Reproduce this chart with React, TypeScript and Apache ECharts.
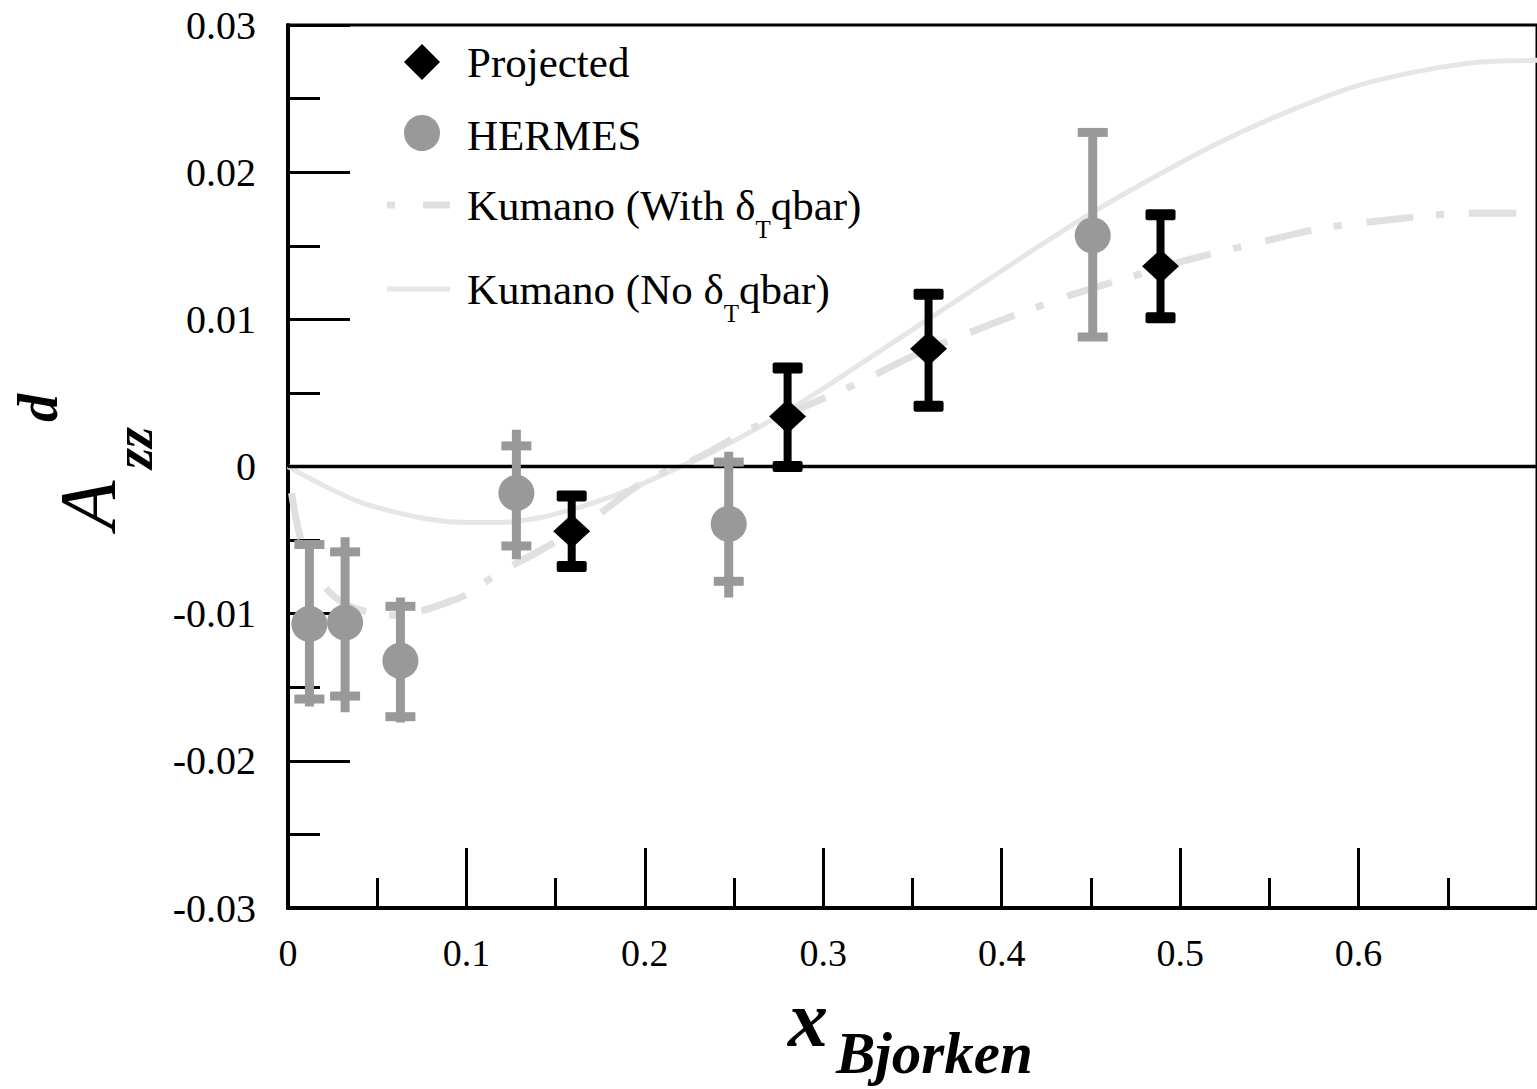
import React, { useEffect, useRef } from "react";
import * as echarts from "echarts";

// ---- data ----
const xTickLabels = ["0", "0.1", "0.2", "0.3", "0.4", "0.5", "0.6", "0.7"];

const projX = [0.159, 0.28, 0.359, 0.489];
const projY = [-0.0044, 0.0034, 0.008, 0.0136];
const projLow = [-0.0068, 0.0, 0.0041, 0.0101];
const projHigh = [-0.002, 0.0067, 0.0117, 0.0171];

const hermesX = [0.012, 0.032, 0.063, 0.128, 0.247, 0.451];
const hermesY = [-0.0107, -0.0106, -0.0132, -0.0018, -0.0039, 0.0157];
const hermesCapLow = [-0.0158, -0.0156, -0.017, -0.0054, -0.0078, 0.0088];
const hermesCapHigh = [-0.0053, -0.0058, -0.0095, 0.0014, 0.0003, 0.0227];
const hermesBarLow = [-0.0163, -0.0167, -0.0174, -0.0063, -0.0089, 0.0088];
const hermesBarHigh = [-0.005, -0.0048, -0.0089, 0.0025, 0.001, 0.0227];

const kumanoNoX = [0, 0.02, 0.04, 0.06, 0.08, 0.1, 0.12, 0.14, 0.16, 0.18, 0.2, 0.22, 0.24, 0.26, 0.28, 0.3, 0.32, 0.34, 0.36, 0.38, 0.4, 0.42, 0.45, 0.48, 0.52, 0.56, 0.6, 0.64, 0.67, 0.7];
const kumanoNoY = [0, -0.0013, -0.0024, -0.0031, -0.0036, -0.0038, -0.0038, -0.0035, -0.0029, -0.0021, -0.0011, 0.0, 0.0011, 0.0024, 0.0038, 0.0053, 0.0069, 0.0085, 0.0101, 0.0117, 0.0133, 0.0149, 0.0172, 0.0193, 0.0219, 0.0241, 0.0259, 0.027, 0.0275, 0.0276];

const kumanoWithX = [0.002, 0.006, 0.012, 0.02, 0.03, 0.045, 0.06, 0.075, 0.09, 0.1, 0.12, 0.14, 0.17, 0.2, 0.23, 0.26, 0.29, 0.32, 0.35, 0.38, 0.41, 0.44, 0.47, 0.5, 0.54, 0.58, 0.62, 0.66, 0.7];
const kumanoWithY = [-0.0018, -0.0044, -0.0066, -0.0081, -0.0092, -0.0099, -0.0101, -0.0098, -0.0092, -0.0087, -0.0071, -0.0058, -0.0036, -0.001, 0.0006, 0.0026, 0.0041, 0.0057, 0.0075, 0.009, 0.0104, 0.0117, 0.0128, 0.0139, 0.0151, 0.0162, 0.0168, 0.0172, 0.0172];

const zeroLineX = [0, 0.7];

const SERIF = "'Liberation Serif', 'Times New Roman', serif";
const HERMES_GRAY = "#999999";

export default function App() {
  const ref = useRef<HTMLDivElement>(null);

  useEffect(() => {
    document.body.style.margin = "0";
    if (!ref.current) return;
    const chart = echarts.init(ref.current, null, { renderer: "svg" });

    const hermesErr = hermesX.map((x, i) => [x, hermesCapLow[i], hermesCapHigh[i], hermesBarLow[i], hermesBarHigh[i]]);
    const projErr = projX.map((x, i) => [x, projLow[i], projHigh[i]]);

    const legendText = (x: number, y: number, text: string) => ({
      type: "text",
      x,
      y,
      style: {
        text,
        fill: "#000",
        fontFamily: SERIF,
        fontSize: 43,
        align: "left",
        verticalAlign: "middle",
        textAlign: "left",
        textVerticalAlign: "middle",
        rich: {
          sub: { fontFamily: SERIF, fontSize: 25, fill: "#000", padding: [48, 0, 0, 0] },
        },
      },
    });

    const option: any = {
      animation: false,
      backgroundColor: "#fff",
      grid: {
        left: 288,
        top: 25,
        right: -11,
        bottom: 181,
        show: true,
        borderColor: "#000",
        borderWidth: 3,
        backgroundColor: "transparent",
      },
      xAxis: {
        type: "value",
        min: 0,
        max: 0.7,
        interval: 0.1,
        axisLine: { show: true, onZero: false, lineStyle: { color: "#000", width: 4 } },
        axisTick: { show: true, inside: true, length: 60, lineStyle: { color: "#000", width: 3 } },
        minorTick: { show: true, splitNumber: 2, length: 30, lineStyle: { color: "#000", width: 3 } },
        splitLine: { show: false },
        minorSplitLine: { show: false },
        axisLabel: {
          color: "#000",
          fontFamily: SERIF,
          fontSize: 38,
          margin: 26,
          showMaxLabel: false,
          formatter: (v: number) => xTickLabels[Math.round(v * 10)] ?? "",
        },
      },
      yAxis: {
        type: "value",
        min: -0.03,
        max: 0.03,
        interval: 0.01,
        axisLine: { show: true, onZero: false, lineStyle: { color: "#000", width: 4 } },
        axisTick: { show: true, inside: true, length: 62, lineStyle: { color: "#000", width: 3 } },
        minorTick: { show: true, splitNumber: 2, length: 32, lineStyle: { color: "#000", width: 3 } },
        splitLine: { show: false },
        minorSplitLine: { show: false },
        axisLabel: {
          color: "#000",
          fontFamily: SERIF,
          fontSize: 40,
          margin: 32,
          formatter: (v: number) => (Math.abs(v) < 1e-9 ? "0" : v.toFixed(2)),
        },
      },
      series: [
        {
          name: "Kumano (No δTqbar)",
          type: "line",
          data: kumanoNoX.map((x, i) => [x, kumanoNoY[i]]),
          smooth: 0.3,
          showSymbol: false,
          symbol: "none",
          lineStyle: { color: "#e6e6e6", width: 5 },
          z: 1,
        },
        {
          name: "Kumano (With δTqbar)",
          type: "line",
          data: kumanoWithX.map((x, i) => [x, kumanoWithY[i]]),
          smooth: 0.3,
          showSymbol: false,
          symbol: "none",
          lineStyle: { color: "#e0e0e0", width: 7, type: [47, 23, 8, 25], cap: "butt" },
          z: 1,
        },
        {
          name: "zero",
          type: "line",
          data: zeroLineX.map((x) => [x, 0]),
          showSymbol: false,
          symbol: "none",
          lineStyle: { color: "#000", width: 3.5 },
          z: 2,
        },
        {
          name: "HERMES errors",
          type: "custom",
          data: hermesErr,
          z: 3,
          renderItem: (params: any, api: any) => {
            const x = api.value(0);
            const cLo = api.coord([x, api.value(1)]);
            const cHi = api.coord([x, api.value(2)]);
            const bLo = api.coord([x, api.value(3)]);
            const bHi = api.coord([x, api.value(4)]);
            const bw = 9, cw = 30, ch = 9;
            const st = { fill: HERMES_GRAY };
            return {
              type: "group",
              children: [
                { type: "rect", shape: { x: bHi[0] - bw / 2, y: bHi[1], width: bw, height: bLo[1] - bHi[1] }, style: st },
                { type: "rect", shape: { x: cHi[0] - cw / 2, y: cHi[1] - ch / 2, width: cw, height: ch }, style: st },
                { type: "rect", shape: { x: cLo[0] - cw / 2, y: cLo[1] - ch / 2, width: cw, height: ch }, style: st },
              ],
            };
          },
        },
        {
          name: "Projected errors",
          type: "custom",
          data: projErr,
          z: 3,
          renderItem: (params: any, api: any) => {
            const x = api.value(0);
            const lo = api.coord([x, api.value(1)]);
            const hi = api.coord([x, api.value(2)]);
            const bw = 8, cw = 30, ch = 11;
            const st = { fill: "#000" };
            return {
              type: "group",
              children: [
                { type: "rect", shape: { x: hi[0] - bw / 2, y: hi[1], width: bw, height: lo[1] - hi[1] }, style: st },
                { type: "rect", shape: { x: hi[0] - cw / 2, y: hi[1] - ch / 2, width: cw, height: ch, r: 2 }, style: st },
                { type: "rect", shape: { x: lo[0] - cw / 2, y: lo[1] - ch / 2, width: cw, height: ch, r: 2 }, style: st },
              ],
            };
          },
        },
        {
          name: "HERMES",
          type: "scatter",
          data: hermesX.map((x, i) => [x, hermesY[i]]),
          symbol: "circle",
          symbolSize: 36,
          itemStyle: { color: HERMES_GRAY, opacity: 1 },
          z: 4,
        },
        {
          name: "Projected",
          type: "scatter",
          data: projX.map((x, i) => [x, projY[i]]),
          symbol: "diamond",
          symbolSize: [37, 34],
          itemStyle: { color: "#000", opacity: 1 },
          z: 5,
        },
      ],
      graphic: {
        elements: [
          // legend symbols
          {
            type: "polygon",
            shape: { points: [[422, 44], [440, 62], [422, 80], [404, 62]] },
            style: { fill: "#000" },
          },
          { type: "circle", shape: { cx: 422, cy: 133, r: 18 }, style: { fill: HERMES_GRAY } },
          { type: "line", shape: { x1: 387, y1: 205, x2: 395, y2: 205 }, style: { stroke: "#e0e0e0", lineWidth: 7 } },
          { type: "line", shape: { x1: 423, y1: 205, x2: 450, y2: 205 }, style: { stroke: "#e0e0e0", lineWidth: 7 } },
          { type: "line", shape: { x1: 387, y1: 289, x2: 450, y2: 289 }, style: { stroke: "#e6e6e6", lineWidth: 5 } },
          legendText(467, 62, "Projected"),
          legendText(467, 135, "HERMES"),
          legendText(467, 205, "Kumano (With δ{sub|T}qbar)"),
          legendText(467, 289, "Kumano (No δ{sub|T}qbar)"),
          // y axis name
          {
            type: "text",
            x: 88,
            y: 505,
            rotation: Math.PI / 2,
            style: {
              text: "A",
              fill: "#000",
              fontFamily: SERIF,
              fontSize: 80,
              fontStyle: "italic",
              lineHeight: 60,
              align: "center",
              verticalAlign: "middle",
              textAlign: "center",
              textVerticalAlign: "middle",
            },
          },
          {
            type: "text",
            x: 134,
            y: 448,
            rotation: Math.PI / 2,
            style: {
              text: "zz",
              fill: "#000",
              fontFamily: SERIF,
              fontSize: 54,
              fontStyle: "italic",
              fontWeight: "bold",
              lineHeight: 40,
              align: "center",
              verticalAlign: "middle",
              textAlign: "center",
              textVerticalAlign: "middle",
            },
          },
          {
            type: "text",
            x: 38,
            y: 408,
            rotation: Math.PI / 2,
            style: {
              text: "d",
              fill: "#000",
              fontFamily: SERIF,
              fontSize: 56,
              fontStyle: "italic",
              fontWeight: "bold",
              lineHeight: 44,
              align: "center",
              verticalAlign: "middle",
              textAlign: "center",
              textVerticalAlign: "middle",
            },
          },
          // x axis name
          {
            type: "text",
            x: 788,
            y: 1019,
            style: {
              text: "x",
              fill: "#000",
              fontFamily: SERIF,
              fontSize: 80,
              fontStyle: "italic",
              fontWeight: "bold",
              lineHeight: 50,
              align: "left",
              verticalAlign: "middle",
              textAlign: "left",
              textVerticalAlign: "middle",
            },
          },
          {
            type: "text",
            x: 836,
            y: 1053,
            style: {
              text: "Bjorken",
              fill: "#000",
              fontFamily: SERIF,
              fontSize: 59,
              fontStyle: "italic",
              fontWeight: "bold",
              lineHeight: 44,
              align: "left",
              verticalAlign: "middle",
              textAlign: "left",
              textVerticalAlign: "middle",
            },
          },
        ],
      },
    };

    chart.setOption(option);
    return () => chart.dispose();
  }, []);

  return <div ref={ref} style={{ width: 1537, height: 1089 }} />;
}
